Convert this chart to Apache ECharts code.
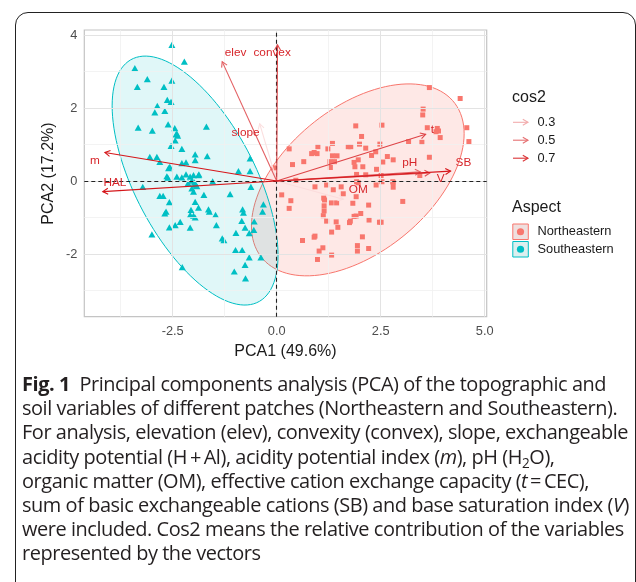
<!DOCTYPE html>
<html><head><meta charset="utf-8">
<script src="https://cdn.jsdelivr.net/npm/echarts@6/dist/echarts.min.js"></script>
<style>
html,body{margin:0;padding:0;background:#fff;width:636px;height:582px;overflow:hidden;}
#chart{position:absolute;left:0;top:0;width:636px;height:582px;}
#box{position:absolute;left:15px;top:12px;width:621px;height:640px;border:1.5px solid #222;border-radius:13px;box-sizing:border-box;pointer-events:none;}
#cap{position:absolute;left:22px;top:372px;font-family:'Open Sans',sans-serif;font-size:17px;line-height:24.2px;color:#231f20;white-space:nowrap;}
#cap .ln{white-space:nowrap;}
#cap sub{font-size:0.68em;vertical-align:-0.3em;line-height:0;}
#cap b{font-weight:700;}
</style></head>
<body>
<div id="chart"></div>
<div id="box"></div>
<div id="cap">
<div class="ln"><b>Fig. 1</b>&nbsp; Principal components analysis (PCA) of the topographic and</div>
<div class="ln">soil variables of different patches (Northeastern and Southeastern).</div>
<div class="ln">For analysis, elevation (elev), convexity (convex), slope, exchangeable</div>
<div class="ln">acidity potential (H&#8201;+&#8201;Al), acidity potential index (<i>m</i>), pH (H<sub>2</sub>O),</div>
<div class="ln">organic matter (OM), effective cation exchange capacity (<i>t</i>&#8201;=&#8201;CEC),</div>
<div class="ln">sum of basic exchangeable cations (SB) and base saturation index (<i>V</i>)</div>
<div class="ln">were included. Cos2 means the relative contribution of the variables</div>
<div class="ln">represented by the vectors</div>
</div>
<script>
// ---------------- data ----------------
const xTicks = [-2.5, 0, 2.5, 5.0];
const yTicks = [-2, 0, 2, 4];
const xMinor = [-3.75, -1.25, 1.25, 3.75];
const yMinor = [-3, -1, 1, 3];

const northeastern = [
 [3.67,2.56],[4.41,2.26],[3.52,1.97],[3.51,1.81],[1.90,1.51],[2.53,1.53],[3.62,1.46],[3.86,1.44],
 [3.89,1.37],[3.83,1.35],[3.93,1.19],[4.57,1.46],[4.62,1.08],[2.04,1.22],[3.17,1.08],[3.49,1.06],
 [3.67,0.65],[0.99,0.94],[1.23,0.88],[1.34,1.03],[1.72,0.94],[1.78,0.94],[1.99,1.01],[2.14,0.90],
 [2.48,1.01],[0.84,0.75],[0.90,0.78],[0.97,0.75],[1.34,0.69],[1.45,0.69],[2.28,0.70],[2.38,0.80],
 [2.66,0.67],[2.80,0.58],[1.86,0.51],[1.96,0.58],[1.28,0.53],[1.39,0.53],[0.38,0.45],[0.65,0.53],
 [0.30,0.88],[2.55,0.52],[1.29,0.37],[1.88,0.39],[2.07,0.39],[2.40,0.32],[1.92,0.18],[2.14,0.17],
 [2.51,0.15],[3.44,0.15],[0.46,0.02],[1.92,-0.02],[1.96,-0.05],[2.80,-0.04],[-0.06,0.36],
 [0.12,-0.38],[0.34,-0.54],[0.30,-0.75],[0.92,-0.16],[1.20,-0.11],[1.55,-0.16],[1.36,-0.24],
 [1.60,-0.35],[1.91,-0.43],[2.39,-0.11],[2.53,-0.02],[2.79,-0.02],[2.80,-0.17],[1.13,-0.47],
 [1.15,-0.52],[1.31,-0.60],[1.44,-0.60],[1.14,-0.68],[1.14,-0.82],[1.12,-0.95],[1.20,-1.10],
 [1.43,-1.12],[1.47,-1.27],[1.32,-1.40],[1.83,-0.61],[1.86,-0.97],[1.77,-1.10],[1.75,-1.14],
 [1.91,-0.96],[2.02,-0.89],[2.21,-0.66],[2.22,-1.07],[2.47,-1.13],[2.51,-1.13],[2.06,-1.53],
 [1.94,-1.77],[1.94,-1.92],[2.21,-1.85],[3.03,-0.56],[0.92,-1.51],[0.90,-1.54],[0.62,-1.63],
 [1.02,-1.92],[1.11,-1.83],[0.98,-2.15],[1.32,-2.03]
];

const southeastern = [
 [-2.52,3.73],[-2.22,3.27],[-3.41,3.09],[-3.11,2.79],[-3.35,2.58],[-2.71,2.58],[-2.52,2.75],
 [-2.63,2.22],[-2.54,2.17],[-2.87,2.06],[-2.93,1.88],[-2.69,1.92],[-3.33,1.46],[-2.99,1.38],
 [-2.61,1.55],[-2.45,1.45],[-2.42,1.28],[-2.38,1.24],[-2.40,1.30],[-2.44,1.11],[-2.54,0.96],
 [-2.28,0.88],[-1.69,1.49],[-1.96,0.73],[-1.96,0.57],[-1.67,0.68],[-3.05,0.66],[-2.88,0.66],
 [-2.81,0.52],[-2.60,0.35],[-2.57,0.39],[-2.28,0.49],[-2.18,0.51],[-0.64,0.62],[-0.92,0.27],
 [-0.64,0.27],
 [-3.22,-0.16],[-2.64,0.13],[-2.62,0.09],[-2.40,0.12],[-2.28,0.10],[-2.18,0.18],[-2.08,0.12],
 [-2.00,0.16],[-1.88,0.16],[-2.13,-0.06],[-2.04,0.01],[-1.96,-0.08],[-1.94,-0.12],[-1.98,-0.04],
 [-1.92,-0.14],[-2.04,-0.20],[-2.00,-0.29],[-1.54,-0.01],[-1.87,0.18],[-2.81,-0.41],[-2.73,-0.41],
 [-1.75,-0.38],[-1.12,-0.36],[-0.62,-0.16],
 [-2.58,-0.58],[-1.96,-0.57],[-1.88,-0.73],[-2.06,-0.79],[-2.66,-0.84],[-2.69,-0.89],[-1.64,-0.78],
 [-1.62,-0.84],[-2.08,-0.93],[-2.00,-0.95],[-1.96,-1.00],[-1.47,-0.93],[-1.45,-1.21],[-2.32,-1.12],
 [-2.44,-1.21],[-2.58,-1.27],[-2.08,-1.28],[-3.00,-1.46],[-2.27,-2.36],[-0.32,-0.64],[-0.34,-0.84],
 [-0.82,-0.78],[-0.80,-0.87],[-0.84,-1.09],[-0.54,-1.11],[-0.76,-1.28],[-0.55,-1.34],[-0.66,-1.43],
 [-0.98,-1.42],[-1.31,-1.57],[-1.27,-1.62],[-0.99,-1.89],[-0.83,-1.89],[-0.66,-2.09],[-0.38,-2.09],
 [-0.76,-2.30],[-1.02,-2.48],[-0.75,-2.67]
];

const varNames = ['slope','OM','elev','pH','V','convex','t','SB','HAL','m'];
const varTipX  = [-0.41, 1.60, -1.31, 3.45, 3.68, 0.02, 3.58, 4.18, -4.18, -4.13];
const varTipY  = [ 1.57,-0.50,  3.27, 0.25, 0.22, 3.73, 1.28, 0.27, -0.29,  0.78];
const varCos2  = [ 0.13, 0.14,  0.56, 0.54, 0.61, 0.63, 0.65, 0.79,  0.80,  0.80];
const labelX   = [-0.75, 1.96, -0.99, 3.20, 3.94, -0.11, 3.74, 4.49, -3.89, -4.37];
const labelY   = [ 1.31,-0.25,  3.52, 0.50, 0.05,  3.52, 1.40, 0.50, -0.06,  0.55];

const cos2Breaks = ['0.3','0.5','0.7'];
const groupNames = ['Northeastern','Southeastern'];
const xTitle = 'PCA1 (49.6%)';
const yTitle = 'PCA2 (17.2%)';

// ---------------- helpers ----------------
const NE_COL = '#F8766D', SE_COL = '#00BFC4';
function cos2Color(c){
  const lo=[253,232,232], hi=[213,22,26];
  let t=(c-0.1)/(0.8-0.1); t=Math.max(0,Math.min(1,t));
  const r=Math.round(lo[0]+(hi[0]-lo[0])*t), g=Math.round(lo[1]+(hi[1]-lo[1])*t), b=Math.round(lo[2]+(hi[2]-lo[2])*t);
  return 'rgb('+r+','+g+','+b+')';
}
// ggplot2 stat_ellipse(type="norm", level=0.95)
function normEllipse(pts, level){
  const n=pts.length;
  let mx=0,my=0; pts.forEach(p=>{mx+=p[0];my+=p[1];}); mx/=n; my/=n;
  let sxx=0,syy=0,sxy=0;
  pts.forEach(p=>{const dx=p[0]-mx,dy=p[1]-my;sxx+=dx*dx;syy+=dy*dy;sxy+=dx*dy;});
  sxx/=(n-1); syy/=(n-1); sxy/=(n-1);
  const d2=n-1;
  const fq = d2/2*(Math.pow(1-level,-2/d2)-1); // qf(level,2,d2)
  const rad=Math.sqrt(2*fq);
  const r11=Math.sqrt(sxx), r12=sxy/r11, r22=Math.sqrt(syy-r12*r12);
  const out=[];
  for(let i=0;i<=120;i++){
    const th=2*Math.PI*i/120, c=Math.cos(th), s=Math.sin(th);
    out.push([mx+rad*c*r11, my+rad*(c*r12+s*r22)]);
  }
  return out;
}
const ellNE = normEllipse(northeastern,0.95);
const ellSE = normEllipse(southeastern,0.95);

function ellipseSeries(ell, col, fill){
  return {
    type:'custom', coordinateSystem:'cartesian2d', z:2, silent:true, clip:true,
    data:[ell[0]],
    renderItem:function(params, api){
      const pts=ell.map(p=>api.coord(p));
      return {type:'polygon', shape:{points:pts}, style:{fill:fill, stroke:col, lineWidth:1}};
    }
  };
}

const FONT='Liberation Sans, Arial, sans-serif';

const chart = echarts.init(document.getElementById('chart'), null, {renderer:'canvas'});

const gridLines = [];
xMinor.forEach(v=>gridLines.push({xAxis:v, lineStyle:{color:'#f0f0f0', width:0.8, type:'solid'}}));
yMinor.forEach(v=>gridLines.push({yAxis:v, lineStyle:{color:'#f0f0f0', width:0.8, type:'solid'}}));
xTicks.forEach(v=>gridLines.push({xAxis:v, lineStyle:{color:'#e3e3e3', width:1, type:'solid'}}));
yTicks.forEach(v=>gridLines.push({yAxis:v, lineStyle:{color:'#e3e3e3', width:1, type:'solid'}}));

function legendArrow(x1,x2,y,col){
  const L=6,a=Math.PI/6;
  return [
    {type:'line', shape:{x1:x1,y1:y,x2:x2,y2:y}, style:{stroke:col,lineWidth:1.1}},
    {type:'polyline', shape:{points:[[x2-L*Math.cos(a),y-L*Math.sin(a)],[x2,y],[x2-L*Math.cos(a),y+L*Math.sin(a)]]}, style:{stroke:col,lineWidth:1.1,fill:null}}
  ];
}

const graphics = [
  {type:'text', x:285.5, y:352, style:{text:xTitle, font:'16px '+FONT, fill:'#1a1a1a', align:'center', verticalAlign:'middle'}},
  {type:'text', x:49, y:173.5, rotation:Math.PI/2, style:{text:yTitle, font:'16px '+FONT, fill:'#1a1a1a', align:'center', verticalAlign:'middle'}},
  {type:'text', x:512, y:98, style:{text:'cos2', font:'16px '+FONT, fill:'#1a1a1a', align:'left', verticalAlign:'middle'}},
  {type:'text', x:512, y:208, style:{text:'Aspect', font:'16px '+FONT, fill:'#1a1a1a', align:'left', verticalAlign:'middle'}}
];
const legY=[122.3,140.2,158.2];
cos2Breaks.forEach((b,i)=>{
  legendArrow(513,528,legY[i],cos2Color(parseFloat(b))).forEach(g=>graphics.push(g));
  graphics.push({type:'text', x:537.5, y:legY[i], style:{text:b, font:'12.8px '+FONT, fill:'#1a1a1a', align:'left', verticalAlign:'middle'}});
});
const keyY=[224,241.5];
const keyFill=['#efdfde','#dcefef'];
[NE_COL,SE_COL].forEach((c,i)=>{
  graphics.push({type:'rect', shape:{x:512.8,y:keyY[i],width:15.5,height:15.5}, style:{fill:keyFill[i], stroke:c, lineWidth:1}});
  graphics.push({type:'circle', shape:{cx:520.5,cy:keyY[i]+7.75,r:3.6}, style:{fill:c}});
  graphics.push({type:'text', x:537.5, y:keyY[i]+7.9, style:{text:groupNames[i], font:'12.8px '+FONT, fill:'#1a1a1a', align:'left', verticalAlign:'middle'}});
});

const option = {
  animation:false,
  backgroundColor:'transparent',
  grid:{left:84.3, top:30, width:402.4, height:286.7, show:true, borderColor:'#c4c4c4', borderWidth:1.2, backgroundColor:'#fff', containLabel:false, outerBoundsMode:'none'},
  xAxis:{type:'value', min:-4.625, max:5.048, axisLine:{show:false}, splitLine:{show:false},
    axisTick:{show:true, length:4, customValues:xTicks, lineStyle:{color:'#b8b8b8', width:1}},
    axisLabel:{customValues:xTicks, formatter:v=>Number(v).toFixed(1), color:'#4d4d4d', fontSize:12.8, fontFamily:FONT, margin:8}},
  yAxis:{type:'value', min:-3.718, max:4.137, axisLine:{show:false}, splitLine:{show:false},
    axisTick:{show:true, length:4, customValues:yTicks, lineStyle:{color:'#b8b8b8', width:1}},
    axisLabel:{customValues:yTicks, formatter:v=>String(Math.round(v)), color:'#4d4d4d', fontSize:12.8, fontFamily:FONT, margin:7}},
  graphic:{elements:graphics},
  series:[
    {type:'scatter', z:1, silent:true, data:[[0,0]], symbolSize:0,
      markLine:{silent:true, symbol:['none','none'], label:{show:false}, animation:false, data:gridLines}},
    ellipseSeries(ellNE, NE_COL, 'rgba(248,118,109,0.17)'),
    ellipseSeries(ellSE, SE_COL, 'rgba(0,191,196,0.12)'),
    {type:'scatter', z:3, silent:true, data:[[0,0]], symbolSize:0,
      markLine:{silent:true, symbol:['none','none'], label:{show:false}, animation:false,
        lineStyle:{color:'#222', width:1.1, type:[4,3]}, data:[{xAxis:0},{yAxis:0}]}},
    {type:'scatter', z:4, name:'Northeastern', data:northeastern, symbol:'rect', symbolSize:5, itemStyle:{color:NE_COL, opacity:1}},
    {type:'scatter', z:4, name:'Southeastern', data:southeastern, symbol:'triangle', symbolSize:[7,6.2], itemStyle:{color:SE_COL, opacity:1}},
    {type:'custom', coordinateSystem:'cartesian2d', z:5, silent:true, clip:false,
      data:varTipX.map((x,i)=>[x,varTipY[i],varCos2[i]]),
      renderItem:function(params, api){
        const o=api.coord([0,0]); const p=api.coord([api.value(0),api.value(1)]);
        const ang=Math.atan2(p[1]-o[1],p[0]-o[0]); const L=6,a=Math.PI/6;
        const h1=[p[0]-L*Math.cos(ang-a),p[1]-L*Math.sin(ang-a)];
        const h2=[p[0]-L*Math.cos(ang+a),p[1]-L*Math.sin(ang+a)];
        const col=cos2Color(api.value(2));
        return {type:'group', children:[
          {type:'line', shape:{x1:o[0],y1:o[1],x2:p[0],y2:p[1]}, style:{stroke:col,lineWidth:1.1}},
          {type:'polyline', shape:{points:[h1,p,h2]}, style:{stroke:col,lineWidth:1.1,fill:null}}
        ]};
      }},
    {type:'custom', coordinateSystem:'cartesian2d', z:6, silent:true, clip:false,
      data:labelX.map((x,i)=>[x,labelY[i]]),
      renderItem:function(params, api){
        const p=api.coord([api.value(0),api.value(1)]);
        return {type:'text', x:p[0], y:p[1], style:{text:varNames[params.dataIndex], font:'11.8px '+FONT, fill:'#d7262b', align:'center', verticalAlign:'middle'}};
      }}
  ]
};
chart.setOption(option);

// fit caption size to the reference line width (slightly condensed spacing)
(function(){
  const cap=document.getElementById('cap');
  const lines=cap.querySelectorAll('.ln');
  const ref=lines[2];
  const ls=-0.45;
  cap.style.letterSpacing='0px';
  ref.style.display='inline-block';
  const w=ref.getBoundingClientRect().width;
  const n=ref.textContent.length;
  const fs=17*(606+(-ls)*n)/w;
  cap.style.fontSize=fs+'px';
  cap.style.letterSpacing=ls+'px';
  const w2=ref.getBoundingClientRect().width;
  cap.style.letterSpacing=(ls+(606-w2)/n)+'px';
  ref.style.display='';
})();
</script>
</body></html>
